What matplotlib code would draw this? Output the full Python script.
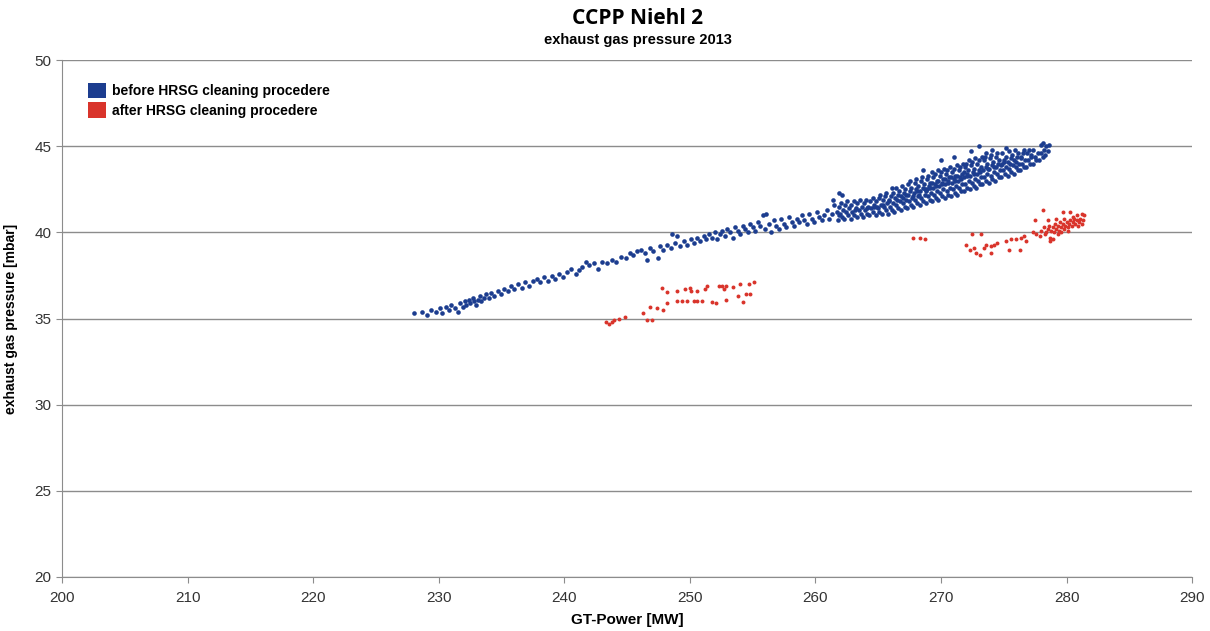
import numpy as np
import matplotlib
matplotlib.use('Agg')
import matplotlib.pyplot as plt
from matplotlib.patches import Patch

plt.rcParams['font.family'] = ['Liberation Sans', 'DejaVu Sans']

series_labels = ['before HRSG cleaning procedere', 'after HRSG cleaning procedere']
series_colors = ['#1c3d8f', '#d9342b']

# before HRSG cleaning, (GT power MW, exhaust gas pressure mbar)
before_low = [
    (228.0, 35.3), (228.7, 35.4), (229.1, 35.2), (229.4, 35.5), (229.8, 35.4), (230.1, 35.6), (230.3, 35.3), (230.6, 35.7),
    (230.8, 35.5), (231.0, 35.8), (231.3, 35.6), (231.5, 35.4), (231.7, 35.9), (231.9, 35.7), (232.1, 36.0), (232.2, 35.8),
    (232.4, 36.1), (232.5, 35.9), (232.7, 36.2), (232.8, 36.0), (233.0, 35.8), (233.1, 36.1), (233.3, 36.3), (233.4, 36.0),
    (233.6, 36.2), (233.8, 36.4), (234.0, 36.2), (234.2, 36.5), (234.4, 36.3), (234.7, 36.6), (235.0, 36.4), (235.2, 36.7),
    (235.5, 36.6), (235.8, 36.9), (236.0, 36.7), (236.3, 37.0), (236.6, 36.8), (236.9, 37.1), (237.2, 36.9), (237.5, 37.2),
    (237.8, 37.3), (238.1, 37.1), (238.4, 37.4), (238.7, 37.2), (239.0, 37.5), (239.3, 37.3), (239.6, 37.6), (239.9, 37.4),
    (240.2, 37.7), (240.5, 37.9), (240.9, 37.6), (241.2, 37.8), (241.4, 38.0), (241.7, 38.3), (242.0, 38.1), (242.4, 38.2),
    (242.7, 37.9), (243.0, 38.3), (243.4, 38.2), (243.8, 38.4), (244.1, 38.3), (244.5, 38.6), (244.9, 38.5), (245.2, 38.8),
    (245.5, 38.7), (245.8, 38.9),
]
before_mid = [
    (246.1, 39.0), (246.4, 38.8), (246.6, 38.4), (246.8, 39.1), (247.1, 38.9), (247.5, 38.5), (247.6, 39.2), (247.9, 39.0),
    (248.2, 39.3), (248.5, 39.1), (248.6, 39.9), (248.8, 39.4), (249.0, 39.8), (249.2, 39.2), (249.5, 39.5), (249.8, 39.3),
    (250.1, 39.6), (250.3, 39.4), (250.6, 39.7), (250.8, 39.5), (251.1, 39.8), (251.3, 39.6), (251.5, 39.9), (251.8, 39.7),
    (252.0, 40.0), (252.2, 39.6), (252.4, 39.9), (252.6, 40.1), (252.8, 39.8), (253.0, 40.2), (253.2, 40.0), (253.4, 39.7),
    (253.6, 40.3), (253.8, 40.1), (254.0, 39.9), (254.2, 40.4), (254.4, 40.2), (254.6, 40.0), (254.8, 40.5), (255.0, 40.3),
    (255.2, 40.1), (255.4, 40.6), (255.6, 40.4), (255.8, 41.0), (256.0, 40.2), (256.1, 41.1), (256.3, 40.5), (256.5, 40.0),
    (256.7, 40.7), (256.9, 40.4), (257.1, 40.2), (257.3, 40.8), (257.5, 40.5), (257.7, 40.3), (257.9, 40.9), (258.1, 40.6),
    (258.3, 40.4), (258.5, 40.8), (258.7, 40.6), (258.9, 41.0), (259.1, 40.7), (259.3, 40.5), (259.5, 41.1), (259.7, 40.8),
    (259.9, 40.6), (260.1, 41.2), (260.3, 40.9), (260.5, 40.7), (260.7, 41.0), (260.9, 41.3), (261.1, 40.8), (261.3, 41.1),
    (261.5, 41.6), (261.7, 41.2), (261.9, 42.3), (261.9, 41.0), (261.4, 41.9), (262.1, 42.2),
]
before_high = [
    (261.8, 40.7), (262.1, 40.9), (261.95, 41.1), (262.2, 41.3), (261.85, 41.5), (262.05, 41.7),
    (262.3, 40.8), (262.6, 41.0), (262.45, 41.2), (262.7, 41.4), (262.35, 41.6), (262.55, 41.8),
    (262.8, 40.8), (263.1, 41.0), (262.95, 41.2), (263.2, 41.4), (262.85, 41.6), (263.05, 41.8), (263.15, 41.3),
    (263.3, 40.9), (263.6, 41.1), (263.45, 41.3), (263.7, 41.5), (263.35, 41.7), (263.55, 41.9),
    (263.8, 40.9), (264.1, 41.1), (263.95, 41.3), (264.2, 41.5), (263.85, 41.7), (264.05, 41.9), (264.15, 41.4),
    (264.3, 41.0), (264.6, 41.2), (264.45, 41.4), (264.7, 41.6), (264.35, 41.8), (264.55, 42.0), (264.65, 41.5),
    (264.8, 41.0), (265.1, 41.2), (264.95, 41.4), (265.2, 41.6), (264.85, 41.8), (265.05, 42.0), (265.15, 42.2), (264.9, 41.5),
    (265.3, 41.1), (265.6, 41.3), (265.45, 41.5), (265.7, 41.7), (265.35, 41.9), (265.55, 42.1), (265.65, 42.3), (265.4, 41.6),
    (265.8, 41.1), (266.1, 41.3), (265.95, 41.5), (266.2, 41.7), (265.85, 41.9), (266.05, 42.1), (266.15, 42.3), (265.9, 41.8),
    (266.1, 42.6),
    (266.3, 41.2), (266.6, 41.4), (266.45, 41.6), (266.7, 41.8), (266.35, 42.0), (266.55, 42.2), (266.65, 42.4), (266.4, 42.6),
    (266.5, 41.9),
    (266.8, 41.3), (267.1, 41.5), (266.95, 41.7), (267.2, 41.9), (266.85, 42.1), (267.05, 42.3), (267.15, 42.5), (266.9, 42.7),
    (267.0, 42.0), (267.25, 42.2),
    (267.3, 41.4), (267.6, 41.6), (267.45, 41.8), (267.7, 42.0), (267.35, 42.2), (267.55, 42.4), (267.65, 42.6), (267.4, 42.8),
    (267.5, 43.0), (267.75, 42.1),
    (267.8, 41.5), (268.1, 41.7), (267.95, 41.9), (268.2, 42.1), (267.85, 42.3), (268.05, 42.5), (268.15, 42.7), (267.9, 42.9),
    (268.0, 43.1), (268.25, 42.2), (268.1, 42.4),
    (268.3, 41.6), (268.6, 41.8), (268.45, 42.0), (268.7, 42.2), (268.35, 42.4), (268.55, 42.6), (268.65, 42.8), (268.4, 43.0),
    (268.5, 43.2), (268.75, 42.5), (268.6, 43.6),
    (268.8, 41.7), (269.1, 41.9), (268.95, 42.1), (269.2, 42.3), (268.85, 42.5), (269.05, 42.7), (269.15, 42.9), (268.9, 43.1),
    (269.0, 43.3), (269.25, 43.5), (269.1, 42.6), (268.8, 42.4),
    (269.3, 41.8), (269.6, 42.0), (269.45, 42.2), (269.7, 42.4), (269.35, 42.6), (269.55, 42.8), (269.65, 43.0), (269.4, 43.2),
    (269.5, 43.4), (269.75, 43.6), (269.6, 42.7), (269.3, 42.9),
    (269.8, 41.9), (270.1, 42.1), (269.95, 42.3), (270.2, 42.5), (269.85, 42.7), (270.05, 42.9), (270.15, 43.1), (269.9, 43.3),
    (270.0, 43.5), (270.25, 43.7), (270.1, 42.8), (269.8, 43.0), (270.0, 44.2),
    (270.3, 42.0), (270.6, 42.2), (270.45, 42.4), (270.7, 42.6), (270.35, 42.8), (270.55, 43.0), (270.65, 43.2), (270.4, 43.4),
    (270.5, 43.6), (270.75, 43.8), (270.6, 42.9), (270.3, 43.1),
    (270.8, 42.1), (271.1, 42.3), (270.95, 42.5), (271.2, 42.7), (270.85, 42.9), (271.05, 43.1), (271.15, 43.3), (270.9, 43.5),
    (271.0, 43.7), (271.25, 43.9), (271.1, 43.0), (270.8, 43.2), (271.0, 44.4),
    (271.3, 42.2), (271.6, 42.4), (271.45, 42.6), (271.7, 42.8), (271.35, 43.0), (271.55, 43.2), (271.65, 43.4), (271.4, 43.6),
    (271.5, 43.8), (271.75, 44.0), (271.6, 43.1), (271.3, 43.3),
    (271.8, 42.4), (272.1, 42.6), (271.95, 42.8), (272.2, 43.0), (271.85, 43.2), (272.05, 43.4), (272.15, 43.6), (271.9, 43.8),
    (272.0, 44.0), (272.25, 44.2), (272.1, 43.3), (271.8, 43.5),
    (272.3, 42.5), (272.6, 42.7), (272.45, 42.9), (272.7, 43.1), (272.35, 43.3), (272.55, 43.5), (272.65, 43.7), (272.4, 43.9),
    (272.5, 44.1), (272.75, 44.3), (272.6, 43.4), (272.4, 44.7),
    (272.8, 42.6), (273.1, 42.8), (272.95, 43.0), (273.2, 43.2), (272.85, 43.4), (273.05, 43.6), (273.15, 43.8), (272.9, 44.0),
    (273.0, 44.2), (273.25, 44.4), (273.1, 43.5), (273.0, 45.0),
    (273.3, 42.8), (273.6, 43.0), (273.45, 43.2), (273.7, 43.4), (273.35, 43.6), (273.55, 43.8), (273.65, 44.0), (273.4, 44.2),
    (273.5, 44.4), (273.75, 43.7), (273.6, 44.6),
    (273.8, 42.9), (274.1, 43.1), (273.95, 43.3), (274.2, 43.5), (273.85, 43.7), (274.05, 43.9), (274.15, 44.1), (273.9, 44.3),
    (274.0, 44.5), (274.25, 43.8), (274.1, 44.8),
    (274.3, 43.0), (274.6, 43.2), (274.45, 43.4), (274.7, 43.6), (274.35, 43.8), (274.55, 44.0), (274.65, 44.2), (274.4, 44.4),
    (274.5, 44.6), (274.75, 43.9),
    (274.8, 43.2), (275.1, 43.4), (274.95, 43.6), (275.2, 43.8), (274.85, 44.0), (275.05, 44.2), (275.15, 44.4), (274.9, 44.6),
    (275.0, 44.1), (275.2, 44.9),
    (275.3, 43.3), (275.6, 43.5), (275.45, 43.7), (275.7, 43.9), (275.35, 44.1), (275.55, 44.3), (275.65, 44.5), (275.4, 44.7),
    (275.5, 44.0),
    (275.8, 43.4), (276.1, 43.6), (275.95, 43.8), (276.2, 44.0), (275.85, 44.2), (276.05, 44.4), (276.15, 44.6), (275.9, 44.8),
    (276.0, 44.1),
    (276.3, 43.6), (276.6, 43.8), (276.45, 44.0), (276.7, 44.2), (276.35, 44.4), (276.55, 44.6), (276.65, 44.8), (276.4, 44.3),
    (276.8, 43.8), (277.1, 44.0), (276.95, 44.2), (277.2, 44.4), (276.85, 44.6), (277.05, 44.8), (277.15, 44.5),
    (277.3, 44.0), (277.6, 44.2), (277.45, 44.4), (277.7, 44.6), (277.35, 44.8),
    (277.8, 44.2), (278.1, 44.4), (277.95, 44.6), (278.2, 44.8), (278.0, 45.1), (278.1, 45.2),
    (278.3, 44.5), (278.5, 44.7), (278.4, 45.0), (278.6, 45.1),
]

# after HRSG cleaning
after_left = [
    (243.3, 34.8), (243.6, 34.7), (243.8, 34.8), (244.0, 34.9), (244.4, 35.0), (244.8, 35.1), (246.3, 35.3), (246.6, 34.9),
    (247.0, 34.9), (246.8, 35.7), (247.4, 35.6), (247.9, 35.5), (248.2, 35.9), (249.0, 36.0), (249.4, 36.0), (249.8, 36.0),
    (250.3, 36.0), (250.6, 36.0), (251.0, 36.0), (251.8, 35.95), (252.1, 35.9), (252.9, 36.1), (253.8, 36.3), (254.2, 35.95),
    (254.5, 36.4), (254.8, 36.4), (247.8, 36.8), (248.2, 36.55), (249.0, 36.6), (249.6, 36.7), (250.0, 36.8), (250.1, 36.6),
    (250.6, 36.6), (251.2, 36.7), (251.4, 36.9), (252.3, 36.9), (252.6, 36.9), (252.9, 36.9), (252.7, 36.7), (253.4, 36.85),
    (254.0, 37.0), (254.7, 37.0), (255.1, 37.1),
]
after_right = [
    (267.8, 39.65), (268.3, 39.65), (268.7, 39.6),
    (272.0, 39.3), (272.3, 39.0), (272.8, 38.8), (273.1, 38.7), (272.5, 39.9), (273.2, 39.9), (273.6, 39.3), (274.0, 39.2),
    (274.2, 39.3), (274.5, 39.4), (274.0, 38.8), (273.4, 39.1), (272.6, 39.1), (275.2, 39.5), (275.6, 39.6), (276.0, 39.6),
    (275.4, 39.0), (276.3, 39.0), (276.4, 39.7), (276.6, 39.8), (276.8, 39.5), (277.3, 40.0), (277.6, 39.9),
    (277.9, 39.8), (278.0, 40.1), (278.2, 40.3), (278.3, 39.9), (278.4, 40.0), (278.5, 40.2), (278.6, 40.4), (278.7, 39.7),
    (278.8, 40.1), (278.9, 40.3), (279.0, 40.0), (279.1, 40.5), (279.2, 40.2), (279.3, 40.4), (279.4, 40.1), (279.5, 40.6),
    (279.6, 40.3), (279.7, 40.5), (279.8, 40.2), (279.9, 40.4), (280.0, 40.6), (280.1, 40.3), (280.2, 40.5), (280.3, 40.7),
    (280.4, 40.4), (280.5, 40.6), (280.6, 40.8), (280.7, 40.5), (280.8, 40.7), (280.9, 40.4), (281.0, 40.6), (281.1, 40.8),
    (281.2, 40.5), (281.3, 40.7), (279.3, 39.9), (279.6, 40.0), (280.1, 40.1), (278.9, 39.6), (279.8, 40.8), (280.5, 40.9),
    (278.1, 41.3), (279.7, 41.2), (280.3, 41.2), (281.2, 41.1), (281.4, 41.0), (277.5, 40.7), (278.7, 39.5), (278.5, 40.7),
    (279.2, 40.8), (280.8, 41.0),
]

before = np.array(before_low + before_mid + before_high)
after = np.array(after_left + after_right)

fig = plt.figure(figsize=(12.1, 6.31), dpi=100)
ax = fig.add_axes([0.0512, 0.0856, 0.934, 0.819])

ax.scatter(before[:, 0], before[:, 1], s=11, color=series_colors[0], linewidths=0, zorder=3)
ax.scatter(after[:, 0], after[:, 1], s=8, color=series_colors[1], linewidths=0, zorder=3)

ax.set_xlim(200, 290)
ax.set_ylim(20, 50)
ax.set_xticks(range(200, 291, 10))
ax.set_yticks(range(20, 51, 5))
ax.yaxis.grid(True, color='#8c8c8c', linewidth=1)
ax.set_axisbelow(True)
for side in ['top', 'right']:
    ax.spines[side].set_visible(False)
for side in ['left', 'bottom']:
    ax.spines[side].set_color('#8c8c8c')
ax.tick_params(colors='#8c8c8c', labelcolor='#333333', labelsize=11, length=4)
ax.tick_params(axis='x', pad=6)

ax.set_xlabel('GT-Power [MW]', fontsize=11, fontweight='bold', labelpad=6)
ax.set_ylabel('exhaust gas pressure [mbar]', fontsize=10, fontweight='bold', labelpad=12)

fig.text(0.527, 0.970, 'CCPP Niehl 2', ha='center', va='center', fontsize=15, fontweight='bold',
         family=['Open Sans', 'DejaVu Sans'])
fig.text(0.527, 0.937, 'exhaust gas pressure 2013', ha='center', va='center', fontsize=10.5, fontweight='bold')

handles = [Patch(facecolor=c, edgecolor='none') for c in series_colors]
ax.legend(handles, series_labels, loc='upper left', bbox_to_anchor=(0.012, 0.98), frameon=False,
          handlelength=1.3, handleheight=1.3, handletextpad=0.45, labelspacing=0.3,
          prop={'weight': 'bold', 'size': 10})

fig.savefig('out.png', dpi=100)
